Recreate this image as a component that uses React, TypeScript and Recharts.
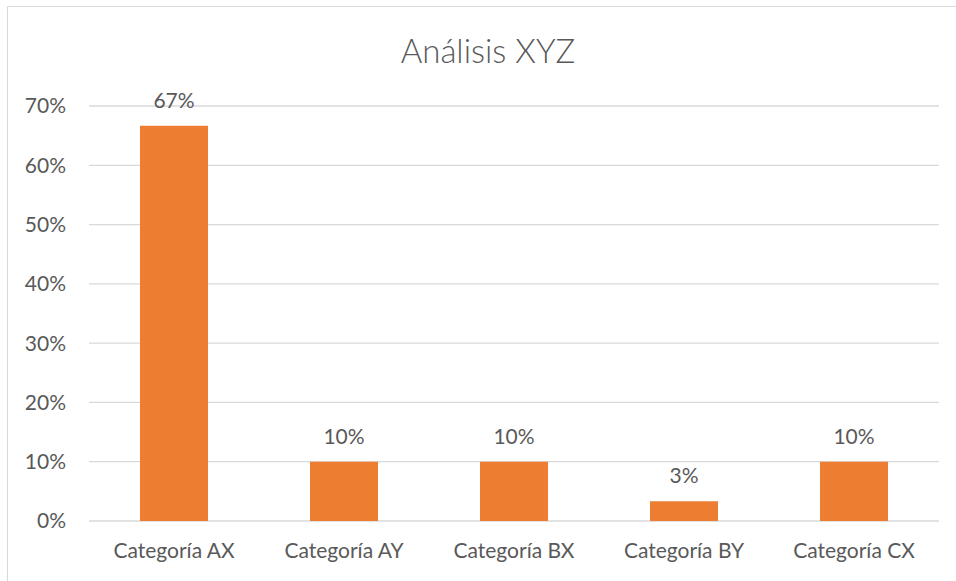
import React from "react";
import { BarChart, Bar, XAxis, YAxis, CartesianGrid, LabelList } from "recharts";

const categories = ["Categoría AX", "Categoría AY", "Categoría BX", "Categoría BY", "Categoría CX"];
const shares = [66.67, 10, 10, 3.33, 10];
const yTicks = [0, 10, 20, 30, 40, 50, 60, 70];

const data = categories.map((name, i) => ({ name, value: shares[i] }));

const FONT = "Lato, 'Open Sans', sans-serif";
const TEXT = "#595959";

export default function App() {
  return (
    <div style={{ position: "absolute", left: 0, top: 0, width: 956, height: 581, overflow: "hidden", background: "#fff" }}>
      <div
        style={{
          position: "absolute",
          left: 7,
          top: 6,
          width: 962,
          height: 600,
          border: "1.5px solid #d9d9d9",
          boxSizing: "border-box",
        }}
      />
      <div
        style={{
          position: "absolute",
          left: 0,
          top: 30,
          width: 976,
          textAlign: "center",
          fontFamily: FONT,
          fontSize: 33,
          fontWeight: 300,
          color: TEXT,
        }}
      >
        Análisis XYZ
      </div>
      <div style={{ position: "absolute", left: 0, top: 0 }}>
        <BarChart
          width={956}
          height={581}
          data={data}
          margin={{ top: 106, right: 17, bottom: 0, left: 0 }}
          barCategoryGap="30%"
        >
          <CartesianGrid vertical={false} stroke="#d9d9d9" strokeWidth={1.3} />
          <XAxis
            dataKey="name"
            height={60}
            axisLine={false}
            tickLine={false}
            tickSize={0}
            tickMargin={22}
            tick={{ fill: TEXT, fontSize: 21, fontFamily: FONT }}
            interval={0}
          />
          <YAxis
            width={89}
            domain={[0, 70]}
            ticks={yTicks}
            axisLine={false}
            tickLine={false}
            tickSize={0}
            tickMargin={23}
            tickFormatter={(v: number) => `${v}%`}
            tick={{ fill: TEXT, fontSize: 21, fontFamily: FONT }}
          />
          <Bar dataKey="value" fill="#ed7d31" isAnimationActive={false}>
            <LabelList
              dataKey="value"
              position="top"
              offset={18}
              formatter={(v: number) => `${Math.round(v)}%`}
              style={{ fill: TEXT, fontSize: 21, fontFamily: FONT }}
            />
          </Bar>
        </BarChart>
      </div>
    </div>
  );
}
